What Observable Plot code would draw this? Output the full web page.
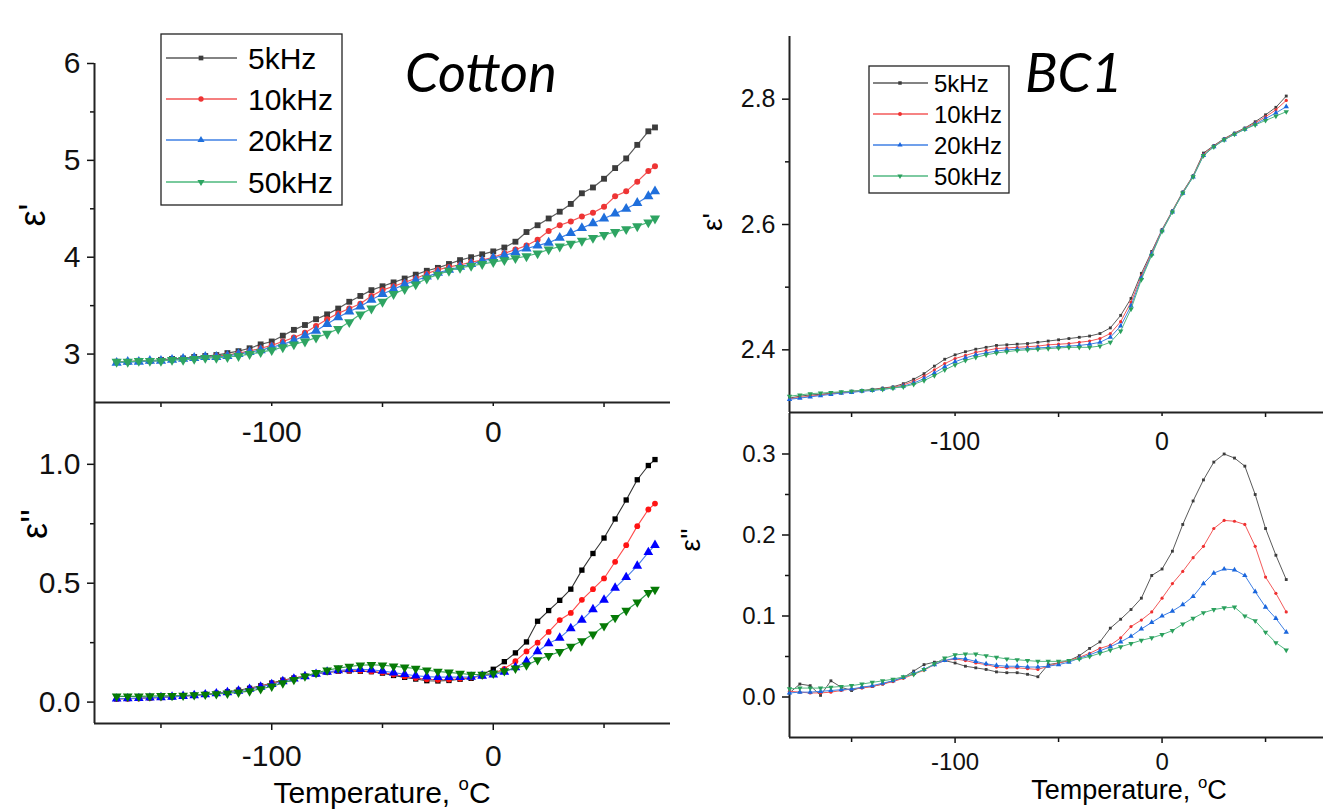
<!DOCTYPE html>
<html><head><meta charset="utf-8">
<script src="https://cdn.jsdelivr.net/npm/d3@7"></script>
<script src="https://cdn.jsdelivr.net/npm/@observablehq/plot@0.6"></script>
<style>
html,body{margin:0;padding:0;background:#fff;}
#wrap{position:relative;width:1323px;height:809px;overflow:hidden;font-family:"Liberation Sans",Arial,sans-serif;}
#wrap svg{position:absolute;left:0;top:0;}
</style></head><body><div id="wrap"></div>
<script>
// ---------------- DATA ----------------
const freqs = ["5kHz", "10kHz", "20kHz", "50kHz"];
const xMajorTicks = [-100, 0];
const xMinorTicks = [-150, -50, 50];

// Cotton temperatures (°C)
const cottonT = [-170,-165,-160,-155,-150,-145,-140,-135,-130,-125,
  -120,-115,-110,-105,-100,-95,-90,-85,-80,-75,
  -70,-65,-60,-55,-50,-45,-40,-35,-30,-25,
  -20,-15,-10,-5,0,5,10,15,20,25,
  30,35,40,45,50,55,60,65,70,73];

// Cotton ε'
const cottonEps1_5k = [2.92,2.92,2.93,2.93,2.94,2.95,2.955,2.97,2.98,2.99,
  3.01,3.03,3.06,3.10,3.13,3.19,3.25,3.30,3.36,3.41,
  3.47,3.54,3.60,3.66,3.70,3.74,3.78,3.82,3.86,3.89,
  3.93,3.97,4.00,4.03,4.06,4.10,4.16,4.26,4.33,4.40,
  4.47,4.55,4.66,4.72,4.81,4.92,5.02,5.16,5.30,5.34];
const cottonEps1_10k = [2.92,2.92,2.93,2.93,2.935,2.94,2.95,2.96,2.97,2.98,
  2.99,3.01,3.03,3.06,3.09,3.13,3.17,3.22,3.29,3.36,
  3.42,3.47,3.52,3.60,3.66,3.70,3.74,3.78,3.83,3.87,
  3.90,3.92,3.95,3.97,4.00,4.04,4.08,4.12,4.18,4.27,
  4.33,4.37,4.42,4.46,4.52,4.63,4.68,4.78,4.89,4.94];
const cottonEps1_20k = [2.91,2.92,2.92,2.93,2.93,2.94,2.95,2.96,2.97,2.97,
  2.98,3.00,3.02,3.04,3.07,3.10,3.14,3.19,3.24,3.31,
  3.38,3.44,3.49,3.56,3.62,3.67,3.72,3.76,3.80,3.84,
  3.87,3.90,3.93,3.96,3.99,4.02,4.05,4.09,4.12,4.15,
  4.20,4.25,4.30,4.35,4.40,4.45,4.50,4.56,4.63,4.68];
const cottonEps1_50k = [2.92,2.92,2.93,2.93,2.93,2.94,2.94,2.95,2.96,2.96,
  2.97,2.98,3.00,3.02,3.04,3.07,3.10,3.13,3.17,3.21,
  3.26,3.33,3.41,3.47,3.54,3.62,3.67,3.72,3.78,3.82,
  3.86,3.89,3.91,3.93,3.95,3.97,3.99,4.01,4.04,4.08,
  4.11,4.14,4.17,4.20,4.23,4.26,4.29,4.32,4.36,4.40];

// Cotton ε''
const cottonEps2_5k = [0.014,0.015,0.016,0.018,0.020,0.022,0.026,0.029,0.033,0.037,
  0.043,0.050,0.058,0.068,0.080,0.092,0.101,0.109,0.118,0.125,
  0.130,0.131,0.130,0.128,0.122,0.112,0.104,0.097,0.090,0.089,
  0.091,0.096,0.100,0.116,0.138,0.170,0.207,0.253,0.340,0.385,
  0.428,0.475,0.555,0.625,0.690,0.770,0.850,0.935,0.995,1.020];
const cottonEps2_10k = [0.013,0.014,0.015,0.017,0.019,0.022,0.025,0.028,0.032,0.036,
  0.041,0.048,0.056,0.066,0.078,0.090,0.100,0.110,0.119,0.126,
  0.131,0.133,0.132,0.129,0.124,0.116,0.108,0.101,0.096,0.094,
  0.095,0.098,0.103,0.110,0.120,0.140,0.172,0.213,0.250,0.295,
  0.345,0.375,0.430,0.475,0.520,0.590,0.660,0.740,0.810,0.835];
const cottonEps2_20k = [0.014,0.015,0.016,0.018,0.020,0.022,0.025,0.028,0.032,0.036,
  0.041,0.047,0.055,0.064,0.075,0.087,0.098,0.108,0.118,0.127,
  0.133,0.137,0.138,0.136,0.131,0.124,0.117,0.111,0.107,0.105,
  0.105,0.105,0.106,0.110,0.115,0.127,0.146,0.171,0.213,0.247,
  0.270,0.310,0.345,0.390,0.430,0.480,0.525,0.573,0.630,0.660];
const cottonEps2_50k = [0.024,0.024,0.024,0.025,0.026,0.027,0.028,0.030,0.032,0.034,
  0.037,0.041,0.046,0.055,0.066,0.080,0.094,0.109,0.123,0.134,
  0.143,0.150,0.155,0.157,0.155,0.151,0.146,0.141,0.134,0.129,
  0.125,0.120,0.116,0.116,0.121,0.131,0.142,0.155,0.177,0.195,
  0.212,0.234,0.257,0.285,0.320,0.355,0.385,0.420,0.460,0.473];

// BC1 temperatures (°C)
const bc1T = [-180,-175,-170,-165,-160,-155,-150,-145,-140,-135,
  -130,-125,-120,-115,-110,-105,-100,-95,-90,-85,
  -80,-75,-70,-65,-60,-55,-50,-45,-40,-35,
  -30,-25,-20,-15,-10,-5,0,5,10,15,
  20,25,30,35,40,45,50,55,60];

// BC1 ε'
const bc1Eps1_5k = [2.323,2.326,2.328,2.329,2.331,2.332,2.334,2.335,2.337,2.339,
  2.341,2.346,2.353,2.362,2.374,2.385,2.392,2.397,2.401,2.404,
  2.407,2.408,2.409,2.410,2.412,2.414,2.416,2.418,2.420,2.422,
  2.426,2.435,2.455,2.482,2.522,2.557,2.592,2.622,2.652,2.678,
  2.714,2.726,2.737,2.746,2.754,2.764,2.775,2.787,2.805];
const bc1Eps1_10k = [2.322,2.324,2.326,2.328,2.330,2.331,2.333,2.334,2.336,2.338,
  2.340,2.344,2.350,2.358,2.368,2.378,2.386,2.391,2.396,2.399,
  2.402,2.403,2.404,2.405,2.406,2.408,2.409,2.410,2.412,2.414,
  2.418,2.426,2.445,2.476,2.518,2.555,2.591,2.621,2.651,2.677,
  2.712,2.725,2.736,2.745,2.753,2.762,2.772,2.783,2.798];
const bc1Eps1_20k = [2.321,2.323,2.325,2.327,2.329,2.331,2.332,2.334,2.335,2.337,
  2.339,2.342,2.347,2.354,2.363,2.373,2.381,2.387,2.392,2.395,
  2.398,2.400,2.401,2.402,2.403,2.404,2.405,2.406,2.407,2.409,
  2.412,2.420,2.438,2.470,2.515,2.553,2.590,2.620,2.650,2.676,
  2.710,2.724,2.735,2.744,2.752,2.760,2.769,2.778,2.788];
const bc1Eps1_50k = [2.326,2.328,2.330,2.331,2.332,2.333,2.334,2.335,2.336,2.337,
  2.339,2.341,2.345,2.351,2.359,2.368,2.376,2.383,2.388,2.392,
  2.395,2.397,2.399,2.400,2.401,2.402,2.403,2.404,2.404,2.404,
  2.406,2.412,2.430,2.465,2.512,2.551,2.589,2.620,2.650,2.676,
  2.710,2.724,2.735,2.744,2.752,2.759,2.766,2.773,2.780];

// BC1 ε''
const bc1Eps2_5k = [0.005,0.016,0.014,0.002,0.020,0.012,0.008,0.012,0.013,0.016,
  0.020,0.024,0.032,0.040,0.043,0.045,0.042,0.038,0.036,0.034,
  0.031,0.030,0.030,0.028,0.025,0.040,0.042,0.045,0.051,0.060,
  0.068,0.085,0.096,0.108,0.122,0.150,0.158,0.180,0.213,0.242,
  0.268,0.290,0.300,0.295,0.285,0.250,0.208,0.175,0.145];
const bc1Eps2_10k = [0.007,0.006,0.005,0.005,0.006,0.008,0.010,0.011,0.013,0.016,
  0.019,0.023,0.028,0.033,0.040,0.045,0.047,0.045,0.042,0.040,
  0.037,0.036,0.036,0.035,0.034,0.038,0.042,0.045,0.049,0.054,
  0.060,0.064,0.073,0.087,0.095,0.105,0.122,0.140,0.155,0.172,
  0.186,0.208,0.218,0.217,0.213,0.186,0.148,0.128,0.105];
const bc1Eps2_20k = [0.005,0.006,0.006,0.007,0.008,0.009,0.010,0.012,0.014,0.017,
  0.020,0.024,0.029,0.034,0.040,0.045,0.048,0.047,0.044,0.041,
  0.039,0.038,0.038,0.037,0.037,0.038,0.040,0.043,0.048,0.052,
  0.057,0.062,0.068,0.075,0.084,0.092,0.100,0.106,0.114,0.124,
  0.140,0.153,0.158,0.157,0.150,0.130,0.111,0.097,0.080];
const bc1Eps2_50k = [0.010,0.011,0.011,0.011,0.012,0.013,0.014,0.016,0.018,0.020,
  0.022,0.025,0.028,0.034,0.041,0.048,0.052,0.053,0.053,0.051,
  0.049,0.047,0.046,0.045,0.044,0.044,0.044,0.045,0.047,0.050,
  0.054,0.058,0.062,0.066,0.070,0.073,0.077,0.082,0.090,0.097,
  0.104,0.108,0.110,0.111,0.100,0.094,0.080,0.067,0.058];

// ---------------- STYLE ----------------
const symbols = ["square", "circle", "triangle", "triangle"];
const rotations = [0, 0, 0, 180];
const FONT = '"Liberation Sans", Arial, Helvetica, sans-serif';

function tidy(T, arrays) {
  return arrays.flatMap((vals, i) => vals.map((v, j) => ({T: T[j], v, f: freqs[i]})));
}

function panel(cfg) {
  const rows = tidy(cfg.T, cfg.series);
  const marks = [
    Plot.axisY({ticks: cfg.yMinor, tickSize: 4, tickFormat: () => "", label: null, strokeWidth: 1.5}),
    Plot.axisY({ticks: cfg.yTicks, tickSize: 7, tickPadding: 7, tickFormat: cfg.yFmt, fontSize: cfg.fs, label: null, strokeWidth: 1.5}),
    Plot.axisX({ticks: xMinorTicks, tickSize: 5, tickFormat: () => "", label: null, strokeWidth: 1.5}),
    Plot.axisX({ticks: xMajorTicks, tickSize: cfg.xTick, tickPadding: cfg.xPad, tickFormat: d => String(d), fontSize: cfg.fs, label: null, strokeWidth: 1.5}),
    Plot.ruleX([cfg.xDomain[0]], {stroke: "#222", strokeWidth: 2}),
    Plot.ruleY([cfg.yDomain[0]], {stroke: "#222", strokeWidth: 2})
  ];
  freqs.forEach((f, i) => {
    const d = rows.filter(r => r.f === f);
    marks.push(Plot.line(d, {x: "T", y: "v", stroke: cfg.lineColors[i], strokeWidth: cfg.lw}));
    marks.push(Plot.dot(d, {x: "T", y: "v", fill: cfg.dotColors[i], symbol: symbols[i], rotate: rotations[i], r: cfg.r[i]}));
  });
  return Plot.plot({
    width: 1323, height: 809,
    marginLeft: cfg.frame[0], marginRight: 1323 - cfg.frame[1],
    marginTop: cfg.frame[2], marginBottom: 809 - cfg.frame[3],
    x: {domain: cfg.xDomain},
    y: {domain: cfg.yDomain},
    style: {background: "transparent", overflow: "visible", fontFamily: FONT, color: "#111"},
    marks
  });
}

const topColorsLine = ["#5a5a5a", "#f25555", "#3f80e4", "#4cb87c"];
const topColorsDot = ["#3c3c3c", "#ee3434", "#1f6fdc", "#2ea462"];
const lowColorsLine = ["#333333", "#ff4a4a", "#4a7ee8", "#2f9a4c"];
const lowColorsDot = ["#000000", "#ff1414", "#0000ff", "#067a06"];
const bcColorsLine = ["#5a5a5a", "#f35a5a", "#4080e4", "#52b882"];
const bcColorsDot = ["#3c3c3c", "#ef3030", "#1a66dd", "#2aa05c"];

const wrap = document.getElementById("wrap");

wrap.appendChild(panel({
  T: cottonT, series: [cottonEps1_5k, cottonEps1_10k, cottonEps1_20k, cottonEps1_50k],
  xDomain: [-180, 80], yDomain: [2.5, 6], frame: [94, 670, 63, 402],
  yTicks: [3, 4, 5, 6], yMinor: [3.5, 4.5, 5.5], yFmt: d3.format("d"),
  fs: 30, xTick: 4, xPad: 14, lineColors: topColorsLine, dotColors: topColorsDot,
  lw: 1.2, r: [3.3, 3.0, 3.8, 3.8]
}));
wrap.appendChild(panel({
  T: cottonT, series: [cottonEps2_5k, cottonEps2_10k, cottonEps2_20k, cottonEps2_50k],
  xDomain: [-180, 80], yDomain: [-0.09, 1.26], frame: [94, 670, 402, 723],
  yTicks: [0, 0.5, 1.0], yMinor: [0.25, 0.75], yFmt: d3.format(".1f"),
  fs: 30, xTick: 7, xPad: 14, lineColors: lowColorsLine, dotColors: lowColorsDot,
  lw: 1.1, r: [3.0, 2.9, 3.6, 3.6]
}));
wrap.appendChild(panel({
  T: bc1T, series: [bc1Eps1_5k, bc1Eps1_10k, bc1Eps1_20k, bc1Eps1_50k],
  xDomain: [-180, 78], yDomain: [2.3, 2.9], frame: [789, 1323, 36, 412],
  yTicks: [2.4, 2.6, 2.8], yMinor: [2.5, 2.7], yFmt: d3.format(".1f"),
  fs: 25, xTick: 4, xPad: 16, lineColors: bcColorsLine, dotColors: bcColorsDot,
  lw: 1, r: [1.6, 1.6, 2.0, 2.0]
}));
wrap.appendChild(panel({
  T: bc1T, series: [bc1Eps2_5k, bc1Eps2_10k, bc1Eps2_20k, bc1Eps2_50k],
  xDomain: [-180, 78], yDomain: [-0.05, 0.35], frame: [789, 1323, 413, 737],
  yTicks: [0, 0.1, 0.2, 0.3], yMinor: [0.05, 0.15, 0.25], yFmt: d3.format(".1f"),
  fs: 24, xTick: 6, xPad: 9, lineColors: bcColorsLine, dotColors: bcColorsDot,
  lw: 1, r: [1.6, 1.6, 2.0, 2.0]
}));

// ---------------- ANNOTATIONS ----------------
const ov = d3.select(wrap).append("svg")
  .attr("width", 1323).attr("height", 809)
  .style("font-family", FONT).style("pointer-events", "none");

function title(x, y, txt) {
  ov.append("text").attr("x", x).attr("y", y)
    .attr("font-family", 'Lato, "Open Sans", sans-serif').attr("font-style", "italic")
    .attr("font-size", 54).attr("fill", "#000").text(txt);
}
title(405, 92, "Cotton");
title(1025, 92, "BC1");

function yLabel(x, y, txt, fs) {
  ov.append("text").attr("transform", `translate(${x},${y}) rotate(-90)`)
    .attr("text-anchor", "middle").attr("font-size", fs).attr("fill", "#000").text(txt);
}
yLabel(45, 215, "ε'", 36);
yLabel(47, 524, "ε''", 36);
yLabel(722, 222, "ε'", 28);
yLabel(700, 540, "ε''", 28);

function xTitle(x, y, fs) {
  const t = ov.append("text").attr("x", x).attr("y", y).attr("text-anchor", "middle")
    .attr("font-size", fs).attr("fill", "#000");
  t.append("tspan").text("Temperature, ");
  t.append("tspan").attr("font-size", fs * 0.62).attr("dy", -fs * 0.42).text("o");
  t.append("tspan").attr("dy", fs * 0.42).text("C");
}
xTitle(382, 803, 30);
xTitle(1129, 799, 27);

function legend(cfg) {
  const g = ov.append("g");
  g.append("rect").attr("x", cfg.box[0]).attr("y", cfg.box[1])
    .attr("width", cfg.box[2]).attr("height", cfg.box[3])
    .attr("fill", "#fff").attr("stroke", "#222").attr("stroke-width", 1.3);
  freqs.forEach((f, i) => {
    const y = cfg.rows[i];
    g.append("line").attr("x1", cfg.line[0]).attr("x2", cfg.line[1])
      .attr("y1", y).attr("y2", y).attr("stroke", cfg.lineColors[i]).attr("stroke-width", 1.4);
    const symType = [d3.symbolSquare, d3.symbolCircle, d3.symbolTriangle, d3.symbolTriangle][i];
    g.append("path").attr("d", d3.symbol(symType, cfg.ms)())
      .attr("transform", `translate(${cfg.mx},${y}) rotate(${rotations[i]})`)
      .attr("fill", cfg.dotColors[i]);
    g.append("text").attr("x", cfg.tx).attr("y", y).attr("dy", "0.36em")
      .attr("font-size", cfg.fs).attr("fill", "#000").text(f);
  });
}
legend({box: [161, 34, 181, 171], rows: [58, 99, 140, 182], line: [166, 237], mx: 201, tx: 248,
  fs: 30, ms: 22, lineColors: topColorsLine, dotColors: topColorsDot});
legend({box: [869, 66, 140, 127], rows: [83, 114, 145, 176], line: [873, 928], mx: 900, tx: 934,
  fs: 24, ms: 12, lineColors: bcColorsLine, dotColors: bcColorsDot});
</script>
</body></html>
